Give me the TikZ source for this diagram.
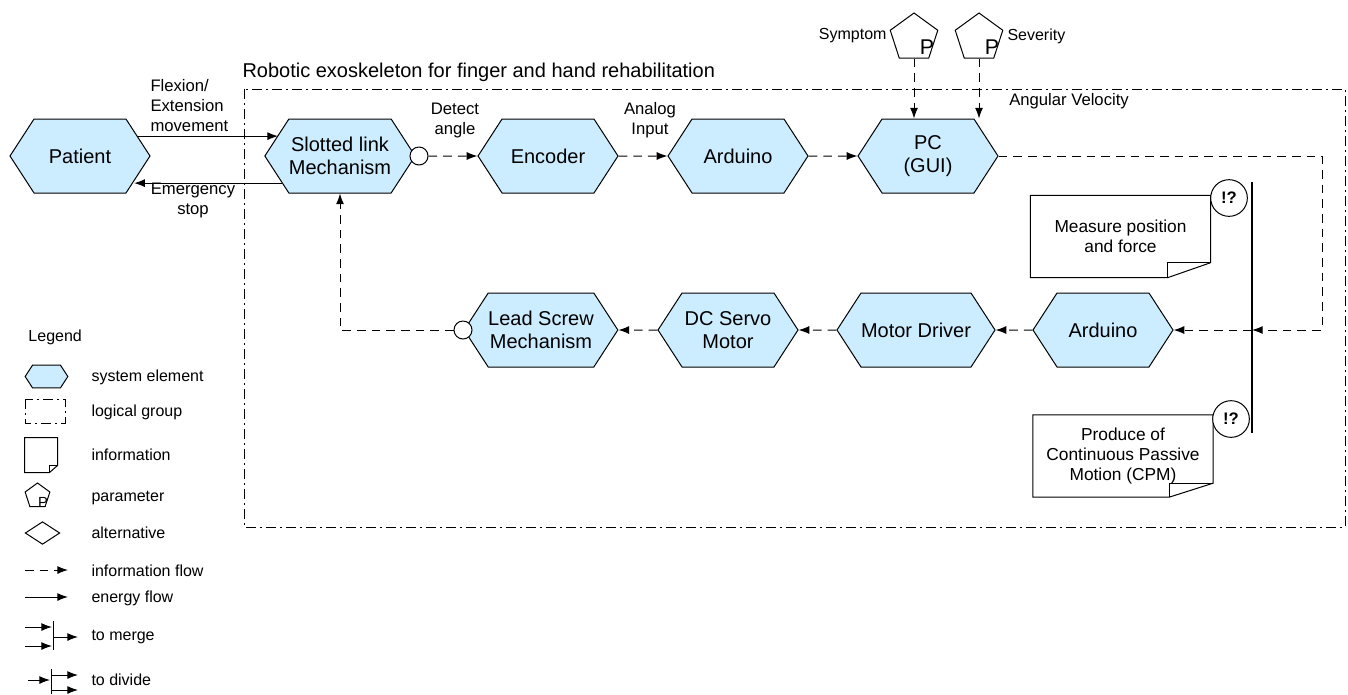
\documentclass[tikz,border=0pt]{standalone}
\usepackage{fontspec}
\setmainfont{Liberation Sans}
\usepackage{tikz}
\usetikzlibrary{arrows.meta, calc, shapes.geometric, shapes.symbols}
\definecolor{sysBlue}{RGB}{204,236,255}
\tikzset{
  sysbox/.style={signal, signal to=east and west, signal pointer angle=114, draw, fill=sysBlue,
    minimum width=105pt, minimum height=55.5pt, inner sep=0pt, align=center,
    font=\fontsize{15}{17}\selectfont},
  infoline/.style={dash pattern=on 6.5pt off 4.5pt, -{Latex[length=8pt,width=6pt]}},
  energyline/.style={-{Latex[length=8pt,width=6pt]}},
  groupline/.style={dash pattern=on 7.5pt off 3pt on 1.5pt off 3pt},
  parambox/.style={regular polygon, regular polygon sides=5, draw, fill=white, minimum size=37.5pt, inner sep=0pt},
  infonote/.style={rectangle, minimum width=134.5pt, minimum height=61pt, inner sep=0pt, align=center,
    font=\fontsize{13}{15}\selectfont},
  askmark/.style={circle, draw, fill=white, minimum size=27.5pt, inner sep=0pt,
    font=\bfseries\fontsize{12.5}{12.5}\selectfont},
  joint/.style={circle, draw, fill=white, minimum size=13.5pt, inner sep=0pt},
  flowlabel/.style={align=center, inner sep=0pt, font=\fontsize{12.5}{15}\selectfont},
  legendtext/.style={anchor=west, inner sep=0pt, font=\fontsize{12}{14}\selectfont},
}
% outline of an information sheet round a node, fold #2 wide and #3 high
\newcommand{\drawnote}[3]{%
  \draw (#1.north west) -- (#1.north east) -- ($(#1.south east)+(0,-#3)$)
    -- ($(#1.south east)+(-#2,0)$) -- (#1.south west) -- cycle;
  \draw ($(#1.south east)+(-#2,0)$) -- ($(#1.south east)+(-#2,-#3)$) -- ($(#1.south east)+(0,-#3)$);
}

\begin{document}
\begin{tikzpicture}[x=0.75pt, y=-0.75pt, line width=0.75pt]
  \useasboundingbox (0,0) rectangle (1348,694);

  % logical group
  \draw[groupline] (244,89) rectangle (1345,527);
  \node[anchor=west, inner sep=0pt, font=\fontsize{15}{17}\selectfont] (title) at (242,72)
    {Robotic exoskeleton for finger and hand rehabilitation};

  % system elements
  \node[sysbox] (patient) at (80,156) {Patient};
  \node[sysbox] (slotted) at (340,156) {Slotted link\\Mechanism};
  \node[sysbox] (encoder) at (548,156) {Encoder};
  \node[sysbox] (ard1) at (738,156) {Arduino};
  \node[sysbox] (pc) at (928,156) {PC\\(GUI)};
  \node[sysbox] (ard2) at (1103,330) {Arduino};
  \node[sysbox] (driver) at (916,330) {Motor Driver};
  \node[sysbox] (servo) at (728,330) {DC Servo\\Motor};
  \node[sysbox] (lead) at (541,330) {Lead Screw\\Mechanism};
  \node[joint] (jt1) at (419,156) {};
  \node[joint] (jt2) at (463,330) {};

  % parameters
  \node[parambox] (symptom) at (914,38) {};
  \node[parambox] (severity) at (979,38) {};
  \node[font=\fontsize{16}{16}\selectfont, inner sep=0pt] (symP) at ($(symptom)+(13,9)$) {P};
  \node[font=\fontsize{16}{16}\selectfont, inner sep=0pt] (sevP) at ($(severity)+(13,9)$) {P};
  \node[legendtext, anchor=east] (symlbl) at (887,36) {Symptom};
  \node[legendtext] (sevlbl) at (1007,36) {Severity};

  % information
  \node[infonote] (measure) at (1120.5,236.5) {Measure position\\and force};
  \node[infonote] (cpm) at (1123,456) {Produce of\\Continuous Passive\\Motion (CPM)};
  \drawnote{measure}{43}{15}
  \drawnote{cpm}{44}{14}
  \node[askmark] (ask1) at (1229,198) {!?};
  \node[askmark] (ask2) at (1231,419) {!?};

  % flows
  \coordinate (turn) at (1322,330);
  \coordinate (bartop) at (1252,182);
  \coordinate (barbot) at (1252,433);
  \draw[line width=1.5pt] (bartop) -- (barbot);
  \draw[energyline] (patient.19) -- (patient.19 -| slotted.161);
  \draw[energyline] (slotted.205) -- (slotted.205 -| patient.-25);
  \draw[infoline] (jt1) -- (encoder);
  \draw[infoline] (encoder) -- (ard1);
  \draw[infoline] (ard1) -- (pc);
  \draw[infoline] (symptom.south) -- (symptom.south |- pc.north);
  \draw[infoline] (severity.south) -- (severity.south |- pc.north);
  \draw[infoline] (pc.east) -| (turn) -- (turn -| bartop);
  \draw[infoline] (turn -| bartop) -- (ard2.east);
  \draw[infoline] (ard2) -- (driver);
  \draw[infoline] (driver) -- (servo);
  \draw[infoline] (servo) -- (lead);
  \draw[infoline] (jt2.west) -| (slotted.south);

  \node[flowlabel, align=left, anchor=west] (flexlbl) at (150,106) {Flexion/\\Extension\\movement};
  \node[flowlabel] (stoplbl) at (193,200) {Emergency\\stop};
  \node[flowlabel] (detlbl) at (455,120) {Detect\\angle};
  \node[flowlabel] (anlbl) at (650,120) {Analog\\Input};
  \node[flowlabel] (anglbl) at (1069,101) {Angular Velocity};

  % legend
  \node[legendtext] (legend) at (28,337) {Legend};
  \node[sysbox, minimum width=32pt, minimum height=17pt] (lgsys) at (46.5,376.5) {};
  \draw[groupline] (25,399) rectangle (65,423);
  \node[infonote, minimum width=24pt, minimum height=25.5pt] (lginfo) at (41,455) {};
  \drawnote{lginfo}{8}{7}
  \node[parambox, minimum size=19.5pt] (lgpar) at (37.5,496) {};
  \node[font=\fontsize{11}{11}\selectfont, inner sep=0pt] (lgP) at (43,502) {P};
  \node[diamond, draw, minimum width=26pt, minimum height=17pt, inner sep=0pt] (lgalt) at (42.5,533) {};
  \draw[infoline] (25,570) -- (68,570);
  \draw[energyline] (25,597) -- (68,597);
  \draw[energyline] (25,627) -- (52,627);
  \draw[energyline] (25,646) -- (52,646);
  \draw (53,621) -- (53,650);
  \draw[energyline] (53,637) -- (78,637);
  \draw[energyline] (28,680) -- (50,680);
  \draw (51,669) -- (51,694);
  \draw[energyline] (51,675) -- (78,675);
  \draw[energyline] (51,690) -- (78,690);
  \node[legendtext] at (91,377) {system element};
  \node[legendtext] at (91,412) {logical group};
  \node[legendtext] at (91,455) {information};
  \node[legendtext] at (91,498) {parameter};
  \node[legendtext] at (91,533) {alternative};
  \node[legendtext] at (91,571) {information flow};
  \node[legendtext] at (91,598) {energy flow};
  \node[legendtext] at (91,637) {to merge};
  \node[legendtext] at (91,680) {to divide};
\end{tikzpicture}
\end{document}
